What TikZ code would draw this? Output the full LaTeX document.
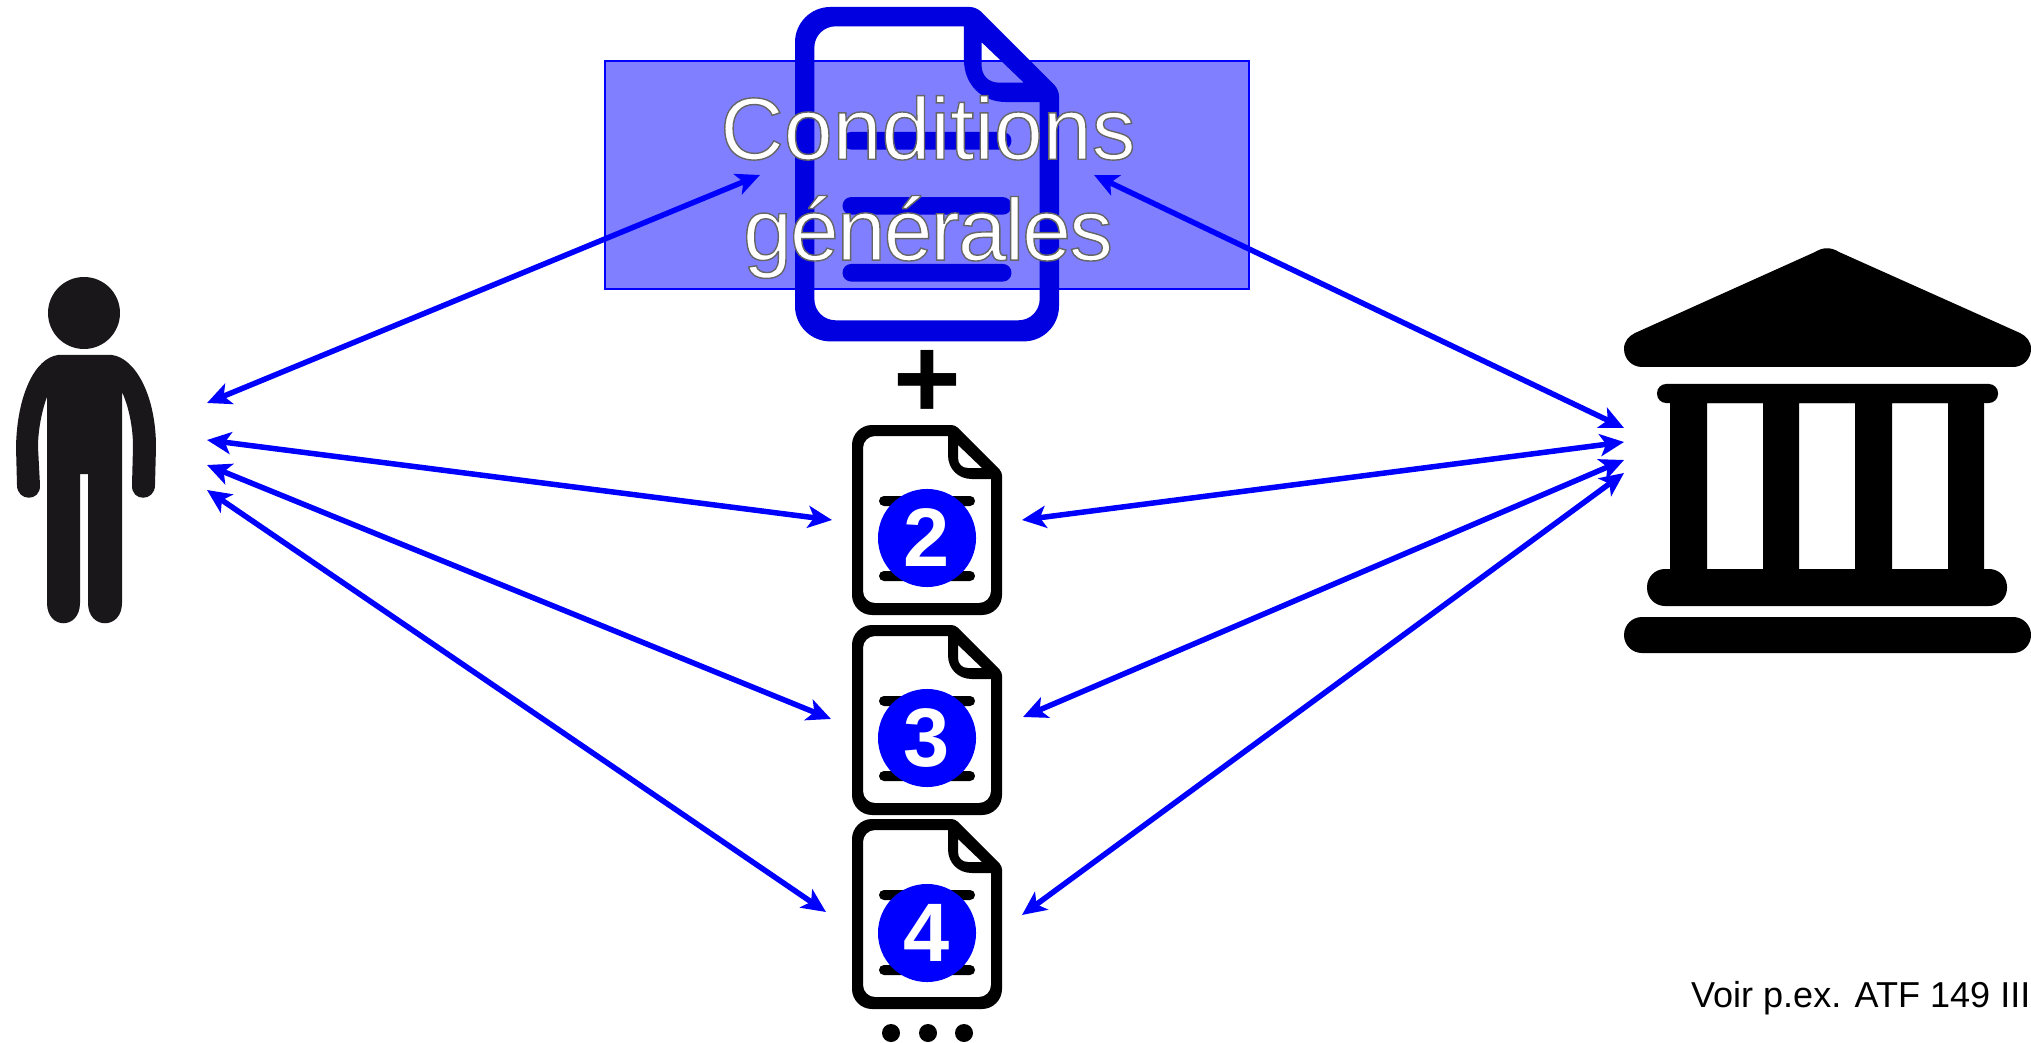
\documentclass[tikz,border=0pt]{standalone}
\usepackage{fontspec}
\setmainfont{Liberation Sans}
\usetikzlibrary{arrows.meta}
\definecolor{docblue}{RGB}{0,0,224}
\definecolor{personblack}{RGB}{26,23,27}
\newcommand{\outlined}[1]{\special{pdf:code q 2 Tr 0.4 w 0.4 G}#1\special{pdf:code Q}}
\newcommand{\docicon}[4]{
 \begin{scope}[shift={(#1,#2)},x=#3*0.01cm,y=-#3*0.01cm]
  \fill[#4,even odd rule]
   (0,0) [rounded corners=#3*1pt] -- (103,0) -- (150,47) [rounded corners=#3*5.7pt] -- (150,190) -- (0,190) -- cycle
   (96,30) [sharp corners] -- (96,11) [rounded corners=#3*3.4pt] -- (11,11) -- (11,178) -- (139,178) [sharp corners] -- (139,54) -- (120,54) .. controls (106,54) and (96,44) .. (96,30) -- cycle
   (106,20) -- (130,43) -- (116,43) .. controls (110,43) and (106,39) .. (106,33) -- cycle;
  \fill[#4,rounded corners=#3*1.4pt] (27,71) rectangle (123,81);
  \fill[#4,rounded corners=#3*1.4pt] (27,108) rectangle (123,118);
  \fill[#4,rounded corners=#3*1.4pt] (27,146) rectangle (123,156);
 \end{scope}
}
\tikzset{
 numdot/.style={circle,fill=blue,text=white,inner sep=0pt,minimum size=0.98cm,font=\bfseries\fontsize{23.6}{28}\selectfont},
 linkarrow/.style={blue,line width=0.055cm,{Stealth[length=0.24cm,width=0.22cm,inset=0.06cm]}-{Stealth[length=0.24cm,width=0.22cm,inset=0.06cm]}},
 dotmark/.style={circle,fill=black,inner sep=0pt,minimum size=0.18cm},
 titlelabel/.style={text=white,align=center,font=\fontsize{25}{28.7}\selectfont},
}
\begin{document}
\begin{tikzpicture}[x=0.01cm,y=-0.01cm]
 \useasboundingbox (0,0) rectangle (2031,1043);
 % person
 \fill[personblack] (84,313) circle (36);
 \fill[personblack] (58,355) -- (112,355) .. controls (135,358) and (156,395) .. (156,447) -- (155,485) .. controls (155,502) and (131,502) .. (132,485) -- (133,447) .. controls (133,425) and (128,405) .. (122,392) -- (122,603) .. controls (122,630) and (88,630) .. (88,603) -- (88,474) -- (80,474) -- (80,603) .. controls (80,630) and (47,630) .. (47,603) -- (47,397) .. controls (42,410) and (38,430) .. (38,447) -- (40,485) .. controls (41,502) and (17,502) .. (17,485) -- (16,447) .. controls (17,395) and (35,358) .. (58,355) -- cycle;
 % bank
 \fill (1624,349) .. controls (1624,341) and (1629,336) .. (1635,333) -- (1815,252) .. controls (1823,247) and (1831,247) .. (1839,252) -- (2020,333) .. controls (2026,336) and (2031,341) .. (2031,349) .. controls (2031,359) and (2023,367) .. (2013,367) -- (1642,367) .. controls (1632,367) and (1624,359) .. (1624,349) -- cycle;
 \fill[rounded corners=2.6pt] (1657,384) rectangle (1998,403);
 \fill[even odd rule] (1670,400) rectangle (1984,572) (1707,403) rectangle (1763,569) (1799,403) rectangle (1855,569) (1892,403) rectangle (1948,569);
 \fill[rounded corners=5.1pt] (1647,569) rectangle (2007,606);
 \fill[rounded corners=5.1pt] (1624,617) rectangle (2031,653);
 % general conditions
 \fill[blue,opacity=0.5] (605,61) rectangle (1249,289);
 \draw[blue,line width=0.02cm] (605,61) rectangle (1249,289);
 \docicon{795}{7}{1.76}{docblue}
 \node[titlelabel] (gc) at (928,187) {\outlined{Conditions}\\\outlined{\addfontfeature{LetterSpace=-2.3}générales}};
 \node[font=\bfseries\fontsize{33}{33}\selectfont] (plus) at (927,384) {+};
 % numbered documents
 \docicon{852}{425}{1}{black}
 \docicon{852}{625}{1}{black}
 \docicon{852}{819}{1}{black}
 \node[numdot] (two) at (927,538) {2};
 \node[numdot] (three) at (927,738) {3};
 \node[numdot] (four) at (927,933) {4};
 \node[dotmark] (dota) at (891,1033) {};
 \node[dotmark] (dotb) at (928,1033) {};
 \node[dotmark] (dotc) at (964,1033) {};
 \node[anchor=base east,inner sep=0pt,font=\fontsize{10.25}{12}\selectfont] (ref) at (2031,1007) {Voir p.ex. ATF 149 III};
 % link ends
 \coordinate (pa) at (207,403);
 \coordinate (pb) at (207,440);
 \coordinate (pc) at (207,465);
 \coordinate (pd) at (207,490);
 \coordinate (ba) at (1624,428);
 \coordinate (bb) at (1624,442);
 \coordinate (bc) at (1624,460);
 \coordinate (bd) at (1624,473);
 \coordinate (gcl) at (760,175);
 \coordinate (gcr) at (1094,175);
 \coordinate (twol) at (832,520);
 \coordinate (twor) at (1022,520);
 \coordinate (threel) at (831,719);
 \coordinate (threer) at (1023,717);
 \coordinate (fourl) at (826,912);
 \coordinate (fourr) at (1022,915);
 \foreach \from/\to in {pa/gcl,pb/twol,pc/threel,pd/fourl,ba/gcr,bb/twor,bc/threer,bd/fourr}
  \draw[linkarrow] (\from) -- (\to);
\end{tikzpicture}
\end{document}
